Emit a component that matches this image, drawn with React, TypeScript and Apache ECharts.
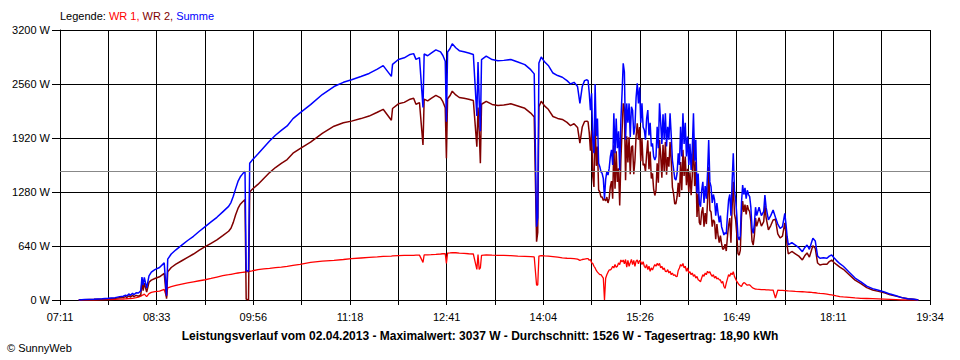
import React, { useEffect, useRef } from "react";
import * as echarts from "echarts";

const FONT = "'Liberation Sans', Arial, sans-serif";

const startTime = "07:11";
const endTime = "19:34";
const tickLabels = ["07:11", "08:33", "09:56", "11:18", "12:41", "14:04", "15:26", "16:49", "18:11", "19:34"];
const yMax = 3200;
const yStep = 640;
const averageW = 1526;
const maxW = 3037;
const dayLabel = "02.04.2013";
const yieldKWh = "18,90";

const times = [
  "07:27","07:32","07:40","07:47","07:52","07:58","08:02","08:05","08:07","08:08",
  "08:10","08:11","08:13","08:14","08:16","08:18","08:20","08:21","08:22","08:23",
  "08:25","08:27","08:29","08:32","08:36","08:40","08:42","08:43","08:46","08:50",
  "08:55","09:00","09:05","09:10","09:15","09:20","09:25","09:30","09:35","09:37",
  "09:39","09:41","09:43","09:45","09:47","09:49","09:50","09:52","09:53","09:55",
  "10:00","10:05","10:10","10:15","10:20","10:25","10:30","10:36","10:45","10:55",
  "11:05","11:13","11:20","11:28","11:35","11:42","11:47","11:54","11:55","12:00",
  "12:05","12:10","12:13","12:15","12:18","12:21","12:22","12:25","12:28","12:32",
  "12:36","12:38","12:40","12:41","12:42","12:44","12:46","12:49","12:52","12:56",
  "13:00","13:04","13:07","13:08","13:09","13:10","13:11","13:15","13:20","13:25",
  "13:30","13:36","13:42","13:48","13:53","13:56","13:58","13:59","14:00","14:02",
  "14:05","14:08","14:12","14:16","14:20","14:24","14:27","14:30","14:33","14:35",
  "14:37","14:39","14:41",
  "14:42","14:43","14:44","14:45","14:46","14:47","14:48","14:49","14:50","14:51",
  "14:52","14:53","14:54","14:55","14:56","14:57","14:58","14:59","15:00","15:01",
  "15:02","15:03","15:04","15:05","15:06","15:07","15:08","15:09","15:10","15:11",
  "15:12","15:13","15:14","15:15","15:16","15:17","15:18","15:19","15:20","15:21",
  "15:22","15:23","15:24","15:25","15:26","15:27","15:28","15:29","15:30","15:31",
  "15:32","15:33","15:34","15:35","15:36","15:37","15:38","15:39","15:40","15:41",
  "15:42","15:43","15:44","15:45","15:46","15:47","15:48","15:49","15:50","15:51",
  "15:52","15:53","15:54","15:55","15:56","15:57","15:58","15:59","16:00","16:01",
  "16:02","16:03","16:04","16:05","16:06","16:07","16:08","16:09","16:10","16:11",
  "16:12","16:13","16:14","16:15","16:16","16:17","16:18","16:19","16:20","16:21",
  "16:22","16:23","16:24","16:25","16:26","16:27","16:28","16:29","16:30","16:31",
  "16:32","16:33","16:34","16:35","16:36","16:37","16:38","16:39","16:40","16:41",
  "16:42","16:43","16:44","16:45","16:46","16:47","16:48","16:49","16:50","16:51",
  "16:52","16:53","16:54","16:55","16:56","16:57","16:58","16:59","17:00","17:01",
  "17:02","17:03","17:04","17:05","17:06",
  "17:08","17:10","17:12","17:13","17:14","17:16","17:18","17:20","17:22","17:24",
  "17:26","17:28","17:30","17:31","17:32","17:33","17:36","17:39","17:42","17:45",
  "17:47","17:49","17:51","17:53","17:54","17:56","17:58","18:00","18:03","18:06",
  "18:08","18:10","18:12","18:14","18:17","18:20","18:25","18:30","18:35","18:40",
  "18:45","18:50","18:55","19:00","19:05","19:10","19:15","19:20","19:23","19:24",
];

const wr1 = [
  0,0,0,2,5,7,10,12,14,15,
  16,18,20,22,28,35,45,55,60,70,
  40,75,90,100,105,125,35,145,158,172,
  188,202,215,228,240,255,272,288,300,305,
  310,315,320,324,328,332,335,338,340,345,
  360,368,375,383,390,398,410,423,445,460,
  470,480,490,498,505,512,518,520,522,525,
  528,530,530,532,532,446,535,535,537,540,
  545,548,550,434,555,558,562,560,555,552,
  548,545,363,540,363,380,530,535,532,530,
  528,525,520,518,515,510,178,178,520,525,
  522,520,515,508,500,495,494,490,485,470,
  480,485,490,
  490,470,480,440,434,400,380,350,330,316,
  300,300,280,260,0,257,300,330,356,356,
  370,400,380,420,387,400,440,420,474,450,
  474,430,480,390,470,400,440,480,420,470,
  400,460,474,430,470,454,420,454,400,380,
  420,360,400,340,380,356,390,420,400,434,
  410,434,380,400,360,380,340,336,360,320,
  340,300,320,290,300,280,276,350,380,420,
  400,434,380,400,340,380,320,336,300,320,
  280,300,260,280,240,230,217,260,300,280,
  320,300,340,320,336,300,280,300,260,280,
  250,260,240,237,200,220,160,138,200,250,
  300,280,320,300,336,280,250,220,200,180,
  170,160,190,205,200,185,175,180,178,165,
  150,140,135,130,128,
  126,124,122,122,120,120,118,118,23,116,
  115,114,112,110,108,107,105,102,100,98,
  96,94,92,90,88,86,82,79,75,70,
  65,60,55,48,40,36,30,24,20,18,
  16,13,10,7,4,0,0,0,0,0,
];

const wr2 = [
  0,4,8,12,15,20,28,30,40,30,
  50,35,55,40,55,45,60,215,110,200,
  95,210,235,255,275,315,15,335,385,425,
  465,505,545,590,632,672,712,762,815,850,
  920,1010,1085,1135,1165,1190,10,0,1280,1310,
  1370,1440,1510,1570,1620,1665,1740,1795,1870,1975,
  2060,2100,2120,2150,2180,2225,2260,2130,2270,2325,
  2342,2380,2390,2320,2340,1837,2380,2360,2390,2425,
  2395,2350,2280,1679,2385,2420,2475,2430,2400,2390,
  2380,2365,1817,2280,2000,1620,2320,2355,2318,2305,
  2312,2325,2300,2272,2215,2170,691,800,2290,2355,
  2298,2260,2175,2152,2140,2105,2066,2090,2045,1860,
  2050,2115,2120,
  2110,1980,1770,2009,1466,1340,2180,1590,1820,1304,
  1280,1220,1220,1180,1200,1173,1220,1150,1204,1344,
  1410,1200,1833,1320,1763,1400,1560,1120,1656,2000,
  2331,2270,1420,1940,1630,1930,1490,1810,1830,1490,
  1650,1940,2094,1900,2050,1646,1910,1596,1615,1520,
  1730,1892,1550,1760,1440,1501,1310,1239,1300,1620,
  1390,1897,1720,1450,1840,1520,1873,1484,1694,1580,
  1873,1650,1339,1260,1140,1142,1224,1388,1220,1634,
  1300,1779,1470,1700,1360,1556,1280,1514,1241,1480,
  1933,1350,1640,984,1260,920,889,1040,1100,870,
  1030,900,1160,1576,1064,1043,870,950,925,720,
  900,767,680,763,669,600,610,662,580,750,
  885,970,680,1100,1402,1020,950,780,550,531,
  590,990,1173,1045,1130,1015,1125,1070,1047,935,
  700,650,765,970,872,
  974,876,928,1122,980,830,882,949,957,784,
  735,756,915,790,642,545,575,548,520,475,
  524,558,508,600,643,614,438,415,425,424,
  455,473,445,422,390,364,300,236,195,147,
  119,102,85,63,46,28,15,8,3,0,
];

const summe = [
  0,6,10,15,20,28,40,45,58,48,
  72,55,80,62,85,82,110,272,175,268,
  140,285,330,360,385,440,50,485,545,595,
  650,705,755,815,870,925,980,1045,1110,1155,
  1230,1320,1405,1460,1495,1525,350,340,1620,1655,
  1730,1808,1885,1953,2010,2063,2150,2218,2315,2435,
  2530,2580,2610,2648,2685,2737,2778,2650,2792,2850,
  2870,2910,2920,2852,2872,2283,2915,2895,2927,2965,
  2940,2898,2830,2113,2940,2978,3037,2990,2955,2942,
  2928,2910,2180,2820,2363,2000,2850,2890,2850,2835,
  2840,2850,2820,2790,2730,2680,869,978,2810,2880,
  2820,2780,2690,2660,2640,2600,2560,2580,2530,2330,
  2530,2600,2610,
  2600,2450,2250,2449,1900,1740,2560,1940,2150,1620,
  1580,1520,1500,1440,1200,1430,1520,1480,1560,1700,
  1780,1600,2213,1740,2150,1800,2000,1540,2130,2450,
  2805,2700,1900,2330,2100,2330,1930,2290,2250,1960,
  2050,2400,2568,2330,2520,2100,2330,2050,2015,1900,
  2150,2252,1950,2100,1820,1857,1700,1659,1700,2054,
  1800,2331,2100,1850,2200,1900,2213,1820,2054,1900,
  2213,1950,1659,1550,1440,1422,1500,1738,1600,2054,
  1700,2213,1850,2100,1700,1936,1600,1850,1541,1800,
  2213,1650,1900,1264,1500,1150,1106,1300,1400,1150,
  1350,1200,1500,1896,1400,1343,1150,1250,1185,1000,
  1150,1027,920,1000,869,820,770,800,780,1000,
  1185,1250,1000,1400,1738,1300,1200,1000,750,711,
  760,1150,1363,1250,1330,1200,1300,1250,1225,1100,
  850,790,900,1100,1000,
  1100,1000,1050,1244,1100,950,1000,1067,980,900,
  850,870,1027,900,750,652,680,650,620,573,
  620,652,600,690,731,700,520,494,500,494,
  520,533,500,470,430,400,330,260,215,165,
  135,115,95,70,50,28,15,8,3,0,
];

const toMin = (t: string) => {
  const [h, m] = t.split(":").map(Number);
  return h * 60 + m;
};
const t0 = toMin(startTime);
const span = toMin(endTime) - t0;
const xStep = span / 18;

const seriesData = (vals: number[]) => times.map((t, i) => [toMin(t) - t0, vals[i]]);

export default function App() {
  const ref = useRef<HTMLDivElement>(null);
  useEffect(() => {
    if (!ref.current) return;
    const chart = echarts.init(ref.current, null, { renderer: "svg" });
    const summary = `Leistungsverlauf vom ${dayLabel} - Maximalwert: ${maxW} W - Durchschnitt: ${averageW} W - Tagesertrag: ${yieldKWh} kWh`;
    chart.setOption({
      animation: false,
      backgroundColor: "#ffffff",
      textStyle: { fontFamily: FONT },
      title: [
        {
          text: "{k|Legende:} {r|WR 1,} {w|WR 2,} {b|Summe}",
          left: 60,
          top: 10,
          padding: 0,
          textStyle: {
            fontSize: 11,
            fontWeight: "normal",
            fontFamily: FONT,
            rich: {
              k: { color: "#000000", fontSize: 11, fontFamily: FONT },
              r: { color: "#ff0000", fontSize: 11, fontFamily: FONT },
              w: { color: "#800000", fontSize: 11, fontFamily: FONT },
              b: { color: "#0000ff", fontSize: 11, fontFamily: FONT },
            },
          },
        },
        {
          text: summary,
          left: "center",
          top: 330,
          padding: 0,
          textStyle: { fontSize: 12, fontWeight: "bold", color: "#000000", fontFamily: FONT },
        },
        {
          text: "© SunnyWeb",
          left: 7,
          top: 342,
          padding: 0,
          textStyle: { fontSize: 11, fontWeight: "normal", color: "#000000", fontFamily: FONT },
        },
      ],
      grid: { left: 60, right: 30, top: 30, bottom: 60 },
      xAxis: {
        type: "value",
        min: 0,
        max: span,
        interval: xStep,
        axisLine: { show: true, lineStyle: { color: "#000000", width: 1 } },
        axisTick: { show: true, length: 5, lineStyle: { color: "#000000", width: 1 } },
        splitLine: { show: true, lineStyle: { color: "#000000", width: 1 } },
        axisLabel: {
          color: "#000000",
          fontSize: 11,
          fontFamily: FONT,
          margin: 11,
          showMinLabel: true,
          showMaxLabel: true,
          formatter: (v: number) => {
            const i = Math.round(v / xStep);
            return i % 2 === 0 ? tickLabels[i / 2] ?? "" : "";
          },
        },
      },
      yAxis: {
        type: "value",
        min: 0,
        max: yMax,
        interval: yStep,
        axisLine: { show: true, lineStyle: { color: "#000000", width: 1 } },
        axisTick: { show: true, length: 8, lineStyle: { color: "#000000", width: 1 } },
        splitLine: { show: true, lineStyle: { color: "#000000", width: 1 } },
        axisLabel: {
          color: "#000000",
          fontSize: 11,
          fontFamily: FONT,
          margin: 10,
          formatter: (v: number) => `${v} W`,
        },
      },
      series: [
        {
          name: "WR 1",
          type: "line",
          z: 2,
          data: seriesData(wr1),
          showSymbol: false,
          symbol: "none",
          lineStyle: { color: "#ff0000", width: 1.3 },
          emphasis: { disabled: true },
          markLine: {
            silent: true,
            symbol: ["none", "none"],
            label: { show: false },
            lineStyle: { color: "#888888", type: "solid", width: 1.2 },
            data: [{ yAxis: averageW }],
          },
        },
        {
          name: "WR 2",
          type: "line",
          z: 3,
          data: seriesData(wr2),
          showSymbol: false,
          symbol: "none",
          lineStyle: { color: "#800000", width: 1.5 },
          emphasis: { disabled: true },
        },
        {
          name: "Summe",
          type: "line",
          z: 4,
          data: seriesData(summe),
          showSymbol: false,
          symbol: "none",
          lineStyle: { color: "#0000ff", width: 1.5 },
          emphasis: { disabled: true },
        },
      ],
    });
    return () => chart.dispose();
  }, []);
  return (
    <div
      ref={ref}
      style={{ position: "absolute", left: 0, top: 0, width: 960, height: 360, background: "#fff" }}
    />
  );
}
